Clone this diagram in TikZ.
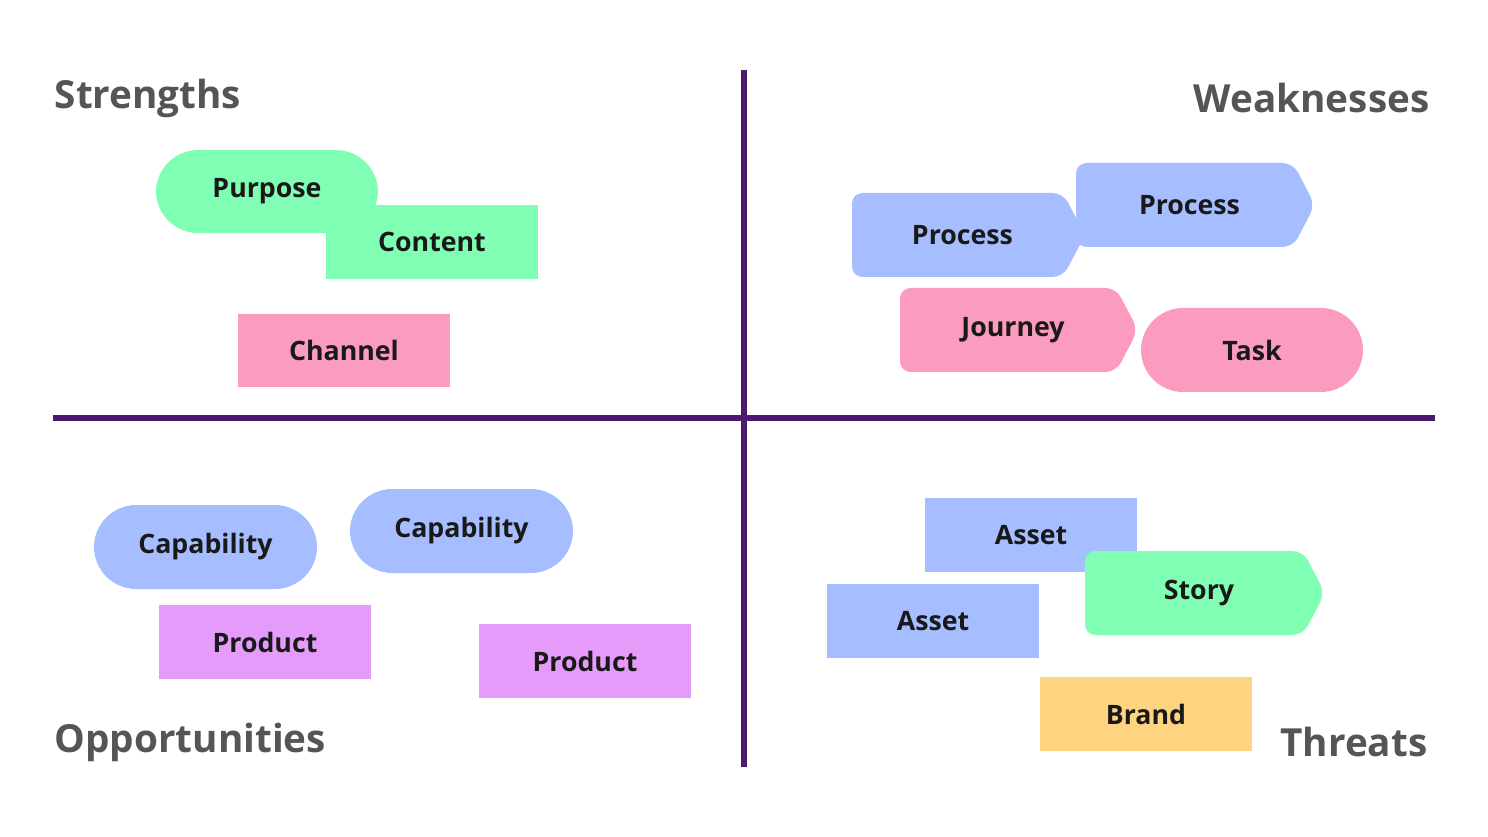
\documentclass[tikz,border=0pt]{standalone}
\usepackage{fontspec}
\setmainfont{Open Sans}
\definecolor{cgreen}{HTML}{80FFB4}
\definecolor{cpink}{HTML}{FA9BBF}
\definecolor{cblue}{HTML}{A6BEFF}
\definecolor{cviolet}{HTML}{E59BF9}
\definecolor{cyellow}{HTML}{FFD480}
\definecolor{cline}{HTML}{4B1A6E}
\definecolor{ctitle}{HTML}{555555}
\tikzset{
  title/.style={font=\fontsize{11}{13}\selectfont\bfseries, text=ctitle, inner sep=0pt},
  label/.style={font=\fontsize{7.6}{9}\selectfont\bfseries, text=black!90},
  axis/.style={cline, line width=1.7pt}
}
% [corners] x1 y1 x2 y2 colour name text
\newcommand{\notebox}[8][0]{%
  \fill[#6, rounded corners=#1] (#2,#3) rectangle (#4,#5);
  \node[label] (#7) at ({(#2+#4)/2},{(#3+#5)/2}) {#8};}
\newcommand{\notetag}[7]{%
  \fill[#5, rounded corners=3] (#1,#2) -- ({#3-22},#2) -- (#3,{(#2+#4)/2}) -- ({#3-22},#4) -- (#1,#4) -- cycle;
  \node[label] (#6) at ({(#1+#3-12)/2},{(#2+#4)/2}) {#7};}
\begin{document}
\begin{tikzpicture}[x=0.01cm,y=-0.01cm]
	\useasboundingbox (0,0) rectangle (1488,837);
	% axes
	\coordinate (vtop) at (744,70); \coordinate (vbot) at (744,767);
	\coordinate (hl) at (53,418); \coordinate (hr) at (1435,418);
	\draw[axis] (vtop) -- (vbot);
	\draw[axis] (hl) -- (hr);
	% titles
	\node[title, anchor=west] (str) at (54,98) {Strengths};
	\node[title, anchor=east] (wea) at (1430,98) {Weaknesses};
	\node[title, anchor=west] (opp) at (54,742) {Opportunities};
	\node[title, anchor=east] (thr) at (1428,742) {Threats};
	% strengths
	\notebox[12]{156}{150}{378}{233}{cgreen}{purpose}{Purpose}
	\notebox{326}{205}{538}{279}{cgreen}{content}{Content}
	\notebox{238}{314}{450}{387}{cpink}{channel}{Channel}
	% weaknesses
	\notetag{852}{193}{1085}{277}{cblue}{process1}{Process}
	\notetag{1076}{163}{1315}{247}{cblue}{process2}{Process}
	\notetag{900}{288}{1138}{372}{cpink}{journey}{Journey}
	\notebox[12]{1141}{308}{1363}{392}{cpink}{task}{Task}
	% opportunities
	\notebox[12]{94}{505}{317}{589}{cblue}{capab1}{Capability}
	\notebox[12]{350}{489}{573}{573}{cblue}{capab2}{Capability}
	\notebox{159}{605}{371}{679}{cviolet}{product1}{Product}
	\notebox{479}{624}{691}{698}{cviolet}{product2}{Product}
	% threats
	\notebox{925}{498}{1137}{572}{cblue}{asset1}{Asset}
	\notebox{827}{584}{1039}{658}{cblue}{asset2}{Asset}
	\notetag{1085}{551}{1325}{635}{cgreen}{story}{Story}
	\notebox{1040}{677}{1252}{751}{cyellow}{brand}{Brand}
\end{tikzpicture}
\end{document}
